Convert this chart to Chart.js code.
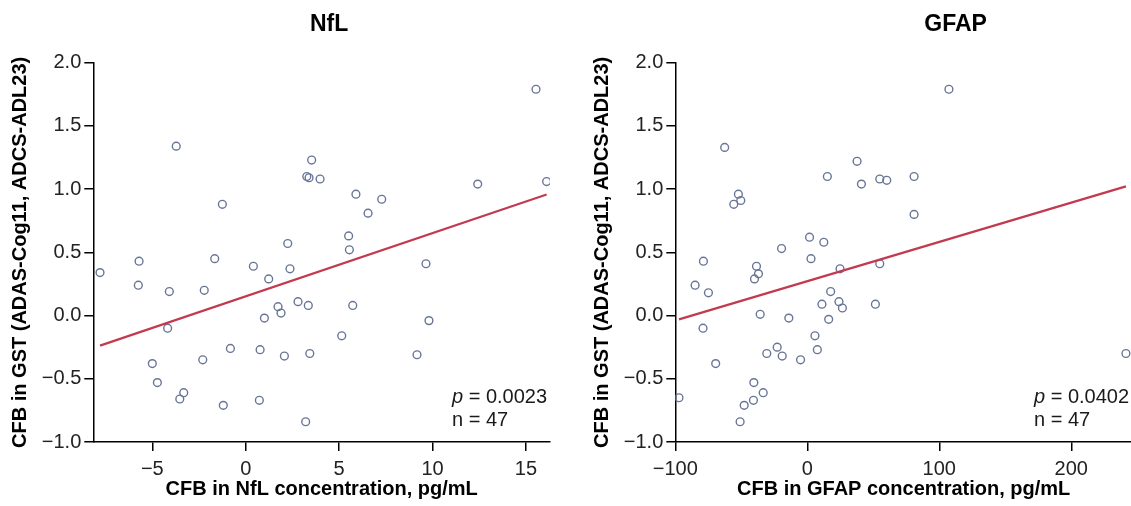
<!DOCTYPE html>
<html><head><meta charset="utf-8">
<script src="https://cdn.jsdelivr.net/npm/chart.js@4.4.1/dist/chart.umd.min.js"></script>
<style>
html,body{margin:0;padding:0;background:#fff;overflow:hidden;width:1131px;height:506px;}
canvas{position:absolute;top:0;}
#c1{left:0;} #c2{left:582px;}
</style></head><body>
<canvas id="c1" width="560" height="506"></canvas>
<canvas id="c2" width="560" height="506"></canvas>
<script>
// ---- data ----
const nflX = [-7.80,-5.71,-5.75,-5.00,-4.73,-4.18,-4.09,-3.72,-3.53,-3.32,-2.30,-2.22,-1.66,-1.25,-1.20,-0.82,0.41,0.73,0.77,1.00,1.23,1.73,1.89,2.07,2.25,2.37,2.80,3.21,3.27,3.35,3.39,3.43,3.53,3.98,5.14,5.51,5.55,5.73,5.90,6.55,7.28,9.17,9.65,9.81,12.42,15.54,16.11];
const nflY = [0.34,0.43,0.24,-0.38,-0.53,-0.10,0.19,1.34,-0.66,-0.61,-0.35,0.20,0.45,0.88,-0.71,-0.26,0.39,-0.67,-0.27,-0.02,0.29,0.07,0.02,-0.32,0.57,0.37,0.11,-0.84,1.10,0.08,1.09,-0.30,1.23,1.08,-0.16,0.63,0.52,0.08,0.96,0.81,0.92,-0.31,0.41,-0.04,1.04,1.79,1.06];
const nflFitX = [-7.80, 16.11];
const nflFitY = [-0.238, 0.957];

const gfapX = [-97.2,-85.0,-79.0,-78.7,-74.9,-69.4,-62.6,-55.7,-52.2,-50.4,-50.9,-47.8,-40.8,-40.5,-40.0,-38.5,-37.0,-35.7,-33.4,-30.7,-22.8,-19.5,-19.0,-14.0,-5.1,1.7,2.8,5.8,7.6,11.1,12.5,15.2,16.2,17.7,24.0,24.8,26.6,37.7,41.0,51.6,54.9,54.9,60.2,80.9,80.9,107.3,241.4];
const gfapY = [-0.65,0.24,-0.10,0.43,0.18,-0.38,1.33,0.88,0.96,0.91,-0.84,-0.71,-0.67,-0.53,0.29,0.39,0.33,0.01,-0.61,-0.30,-0.25,0.53,-0.32,-0.02,-0.35,0.62,0.45,-0.16,-0.27,0.09,0.58,1.10,-0.03,0.19,0.11,0.37,0.06,1.22,1.04,0.09,1.08,0.41,1.07,1.10,0.80,1.79,-0.30];
const gfapFitX = [-97.2, 241.4];
const gfapFitY = [-0.030, 1.022];

const yTickValues = [-1.0,-0.5,0.0,0.5,1.0,1.5,2.0];
const nflXTicks = [-5,0,5,10,15];
const gfapXTicks = [-100,0,100,200];

const yTitle = 'CFB in GST (ADAS-Cog11, ADCS-ADL23)';
const nflTitle = 'NfL';
const gfapTitle = 'GFAP';
const nflXTitle = 'CFB in NfL concentration, pg/mL';
const gfapXTitle = 'CFB in GFAP concentration, pg/mL';
const nflP = '0.0023', gfapP = '0.0402';
const nflN = '47', gfapN = '47';

// ---- rendering ----
const FAM = '"Liberation Sans", Arial, Helvetica, sans-serif';
Chart.defaults.font.family = FAM;
const POINT = '#687596';
const FIT = '#c23a4f';

function fmt(v, dec) {
  const s = v.toFixed(dec);
  return s.replace('-', '\u2212');
}

const textPlugin = {
  id: 'panelText',
  afterDraw(chart, args, o) {
    const {ctx, chartArea: a} = chart;
    ctx.save();
    ctx.fillStyle = '#000';
    ctx.font = 'bold 23px ' + FAM;
    ctx.textAlign = 'center';
    ctx.textBaseline = 'middle';
    ctx.fillText(o.title, (a.left + a.right) / 2 + o.titleDx, 25);
    ctx.textAlign = 'left';
    ctx.textBaseline = 'alphabetic';
    const x0 = a.right - 98;
    ctx.fillStyle = '#1a1a1a';
    ctx.font = 'italic 20px ' + FAM;
    ctx.fillText('p', x0, a.bottom - 39);
    const w = ctx.measureText('p').width;
    ctx.font = '20px ' + FAM;
    ctx.fillText(' = ' + o.p, x0 + w, a.bottom - 39);
    ctx.fillText('n = ' + o.n, x0, a.bottom - 15.6);
    ctx.restore();
  }
};

function makeChart(id, xs, ys, fx, fy, xTicks, xmin, xmax, xTitle, title, titleDx, p, n, xdec) {
  const pts = xs.map((x, i) => ({x, y: ys[i]}));
  const fit = fx.map((x, i) => ({x, y: fy[i]}));
  return new Chart(document.getElementById(id), {
    type: 'scatter',
    data: {
      datasets: [
        {data: fit, showLine: true, borderColor: FIT, borderWidth: 2.2, pointRadius: 0, fill: false, order: 0},
        {data: pts, pointRadius: 3.9, pointBorderWidth: 1.4, borderColor: POINT, backgroundColor: 'rgba(0,0,0,0)', pointBackgroundColor: 'rgba(0,0,0,0)', pointBorderColor: POINT, order: 1}
      ]
    },
    options: {
      responsive: false,
      animation: false,
      devicePixelRatio: 1,
      layout: {padding: {top: 62.7, right: 10, bottom: 0, left: 0}},
      plugins: {
        legend: {display: false},
        tooltip: {enabled: false},
        panelText: {title, titleDx, p, n}
      },
      scales: {
        x: {
          type: 'linear', min: xmin, max: xmax,
          afterBuildTicks: s => { s.ticks = xTicks.map(v => ({value: v})); },
          afterFit: s => { s.height = 64; },
          ticks: {padding: 6, color: '#222', font: {size: 20}, callback: v => fmt(v, xdec)},
          grid: {drawOnChartArea: false, drawTicks: true, tickLength: 9, color: '#000', lineWidth: 1.5},
          border: {display: true, color: '#000', width: 1.5},
          title: {display: true, text: xTitle, color: '#000', font: {size: 20, weight: 'bold'}, padding: {top: 0, bottom: 5}}
        },
        y: {
          type: 'linear', min: -1, max: 2,
          afterBuildTicks: s => { s.ticks = yTickValues.map(v => ({value: v})); },
          afterFit: s => { s.width = 93.3; },
          ticks: {padding: 3, color: '#222', font: {size: 20}, callback: v => fmt(v, 1)},
          grid: {drawOnChartArea: false, drawTicks: true, tickLength: 9, color: '#000', lineWidth: 1.5},
          border: {display: true, color: '#000', width: 1.5},
          title: {display: true, text: yTitle, color: '#000', font: {size: 20, weight: 'bold'}, padding: {top: 8, bottom: 0}}
        }
      }
    },
    plugins: [textPlugin]
  });
}

makeChart('c1', nflX, nflY, nflFitX, nflFitY, nflXTicks, -8.16, 16.29, nflXTitle, nflTitle, 7.5, nflP, nflN, 0);
makeChart('c2', gfapX, gfapY, gfapFitX, gfapFitY, gfapXTicks, -100, 246, gfapXTitle, gfapTitle, 52, gfapP, gfapN, 0);
</script>
</body></html>
